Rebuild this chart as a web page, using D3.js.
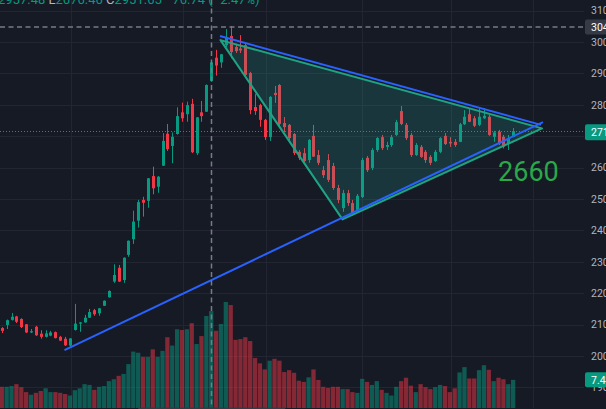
<!DOCTYPE html>
<html><head><meta charset="utf-8">
<script src="https://cdn.jsdelivr.net/npm/d3@7"></script>
<style>
html,body{margin:0;padding:0;background:#161a25;overflow:hidden;}
svg{display:block;}
text{font-family:Roboto,"Noto Sans",sans-serif;}
</style></head>
<body><svg id="c" width="606" height="409"></svg>
<script>
// ---- data (price in USD, volume in K) ----
const open  = [2089,2099,2115,2126,2118,2101,2075,2093,2071,2061,2065,2076,2061,2055,2033,2083,2103,2107,2122,2146,2136,2160,2187,2237,2281,2242,2322,2372,2431,2497,2494,2573,2539,2606,2708,2669,2707,2776,2770,2803,2646,2776,2778,2876,2950,2935,2990,3019,2984,2979,2990,2901,2793,2799,2752,2697,2838,2863,2742,2736,2707,2650,2646,2624,2701,2640,2592,2624,2605,2535,2471,2519,2487,2465,2506,2631,2599,2656,2697,2666,2672,2704,2780,2736,2704,2640,2666,2650,2634,2621,2650,2701,2682,2682,2682,2738,2770,2757,2736,2757,2762,2698,2714,2698,2677,2698];
const high  = [2092,2116,2137,2128,2120,2102,2086,2096,2082,2082,2080,2078,2064,2061,2057,2166,2108,2131,2150,2150,2153,2177,2209,2292,2290,2314,2368,2463,2497,2507,2567,2603,2573,2710,2739,2712,2792,2807,2810,2819,2761,2812,2865,2943,2975,2962,3041,3051,2994,3022,2997,2905,2834,2803,2755,2828,2860,2866,2761,2739,2710,2656,2662,2691,2736,2656,2605,2643,2615,2545,2529,2529,2497,2516,2631,2637,2662,2697,2704,2682,2704,2752,2796,2742,2710,2678,2672,2656,2640,2656,2697,2710,2697,2691,2742,2783,2787,2764,2790,2789,2768,2717,2720,2704,2704,2726];
const low   = [2073,2086,2113,2105,2089,2073,2073,2064,2055,2059,2063,2056,2048,2032,2029,2081,2077,2106,2121,2128,2128,2159,2186,2233,2236,2233,2316,2357,2409,2444,2472,2515,2520,2605,2653,2614,2705,2746,2746,2646,2640,2746,2777,2874,2893,2918,2984,2948,2965,2965,2892,2770,2768,2730,2688,2685,2806,2730,2713,2688,2640,2624,2615,2615,2634,2608,2567,2554,2529,2487,2459,2478,2446,2459,2503,2586,2592,2650,2656,2656,2666,2701,2735,2688,2634,2637,2631,2615,2608,2618,2646,2672,2666,2666,2681,2736,2745,2729,2732,2755,2701,2682,2672,2661,2656,2697];
const close = [2080,2114,2125,2109,2092,2075,2079,2066,2061,2072,2075,2057,2049,2034,2056,2103,2107,2122,2140,2133,2152,2176,2207,2258,2237,2313,2367,2428,2490,2488,2566,2534,2571,2685,2659,2698,2764,2757,2799,2649,2760,2764,2863,2935,2925,2961,3013,2968,2971,2973,2895,2783,2780,2752,2697,2825,2831,2739,2729,2694,2646,2631,2621,2688,2635,2615,2576,2561,2535,2497,2519,2487,2452,2510,2624,2592,2656,2694,2662,2672,2697,2745,2739,2694,2640,2672,2634,2624,2615,2650,2694,2675,2677,2672,2738,2762,2746,2733,2762,2765,2704,2712,2677,2667,2693,2716];
const volume = [5.6,5.6,5.8,6.3,5.5,4.2,3.5,4.0,4.5,5.2,4.2,4.2,4.0,3.7,3.3,4.7,5.2,6.3,6.1,4.8,5.6,5.8,7.1,7.6,8.5,9.0,11.6,14.9,14.6,13.5,13.5,15.5,13.5,15.1,18.7,16.5,20.8,20.6,20.8,22.4,16.9,19.0,24.3,25.6,20.4,22.2,28.0,27.2,18.0,18.2,18.7,17.7,13.2,11.8,10.2,12.5,13.0,12.5,9.5,10.0,9.3,7.2,6.9,8.1,10.2,7.4,5.6,5.3,5.6,5.6,5.0,5.0,4.2,4.0,7.7,6.9,6.1,7.1,4.8,4.0,3.3,5.6,7.1,8.0,5.9,4.2,6.3,5.5,5.0,5.5,6.1,5.8,4.2,5.2,9.4,10.8,7.8,7.8,10.0,11.3,10.1,7.1,8.0,7.6,6.3,7.43];
const priceTicks = [3100,3000,2900,2800,2700,2600,2500,2400,2300,2200,2100,2000,1900];
const timeGridIdx = [14.2,37.2,54.3,74,92.2,109];
// drawings, in [candle index, price]
const triangle = [[44.9,3006],[69.96,2435],[110.92,2725]];
const trendUpper = [[44.8,3019],[110.72,2736]];
const trendLower = [[12.87,2019],[111.13,2745]];
const crosshair = {idx:43, price:3047.8, label:"3047.80"};
const lastPriceLabel = "2716.45";
const lastVolLabel = "7.43K";
const note = {idx:101.9, price:2557, text:"2660"};
const header = [["2957.48 ","#089981"],["L","#b2b5be"],["2676.46 ","#089981"],["C","#b2b5be"],["2951.65 ","#089981"],["−76.74 (−2.47%)","#089981"]];

// ---- layout ----
const W=606,H=409, plotR=584;
const up="#089981", dn="#f23645";
const svg=d3.select("#c");
const x=d3.scaleLinear().domain([0,105]).range([1.8,513.15]);
const y=d3.scaleLinear().domain([2000,3000]).range([356,42]);
const yV=d3.scaleLinear().domain([0,28]).range([408,302]);
const idx=d3.range(open.length);

svg.append("rect").attr("width",W).attr("height",H).attr("fill","#161a25");
// grid
const g=svg.append("g");
g.selectAll("line.h").data(priceTicks).join("line")
 .attr("x1",0).attr("x2",plotR).attr("y1",d=>Math.round(y(d))+0.5).attr("y2",d=>Math.round(y(d))+0.5)
 .attr("stroke","#232632").attr("stroke-width",1);
g.selectAll("line.v").data(timeGridIdx).join("line")
 .attr("y1",0).attr("y2",408).attr("x1",d=>Math.round(x(d))+0.5).attr("x2",d=>Math.round(x(d))+0.5)
 .attr("stroke","#232632").attr("stroke-width",1);

// volume
svg.append("g").selectAll("rect").data(idx).join("rect")
 .attr("x",i=>x(i)-2.15).attr("width",4.3)
 .attr("y",i=>yV(volume[i])).attr("height",i=>yV(0)-yV(volume[i]))
 .attr("fill",i=>close[i]>=open[i]?"rgba(8,153,129,0.5)":"rgba(242,54,69,0.5)");

// candles
const cg=svg.append("g");
cg.selectAll("line").data(idx).join("line")
 .attr("x1",i=>Math.round(x(i))+0.5).attr("x2",i=>Math.round(x(i))+0.5)
 .attr("y1",i=>y(high[i])).attr("y2",i=>y(low[i]))
 .attr("stroke",i=>close[i]>=open[i]?up:dn).attr("stroke-width",1);
cg.selectAll("rect").data(idx).join("rect")
 .attr("x",i=>Math.round(x(i))-1).attr("width",3)
 .attr("y",i=>y(Math.max(open[i],close[i])))
 .attr("height",i=>Math.max(1,Math.abs(y(open[i])-y(close[i]))))
 .attr("fill",i=>close[i]>=open[i]?up:dn);

// last price dotted line
svg.append("line").attr("x1",0).attr("x2",plotR)
 .attr("y1",Math.round(y(close[close.length-1]))+0.5).attr("y2",Math.round(y(close[close.length-1]))+0.5)
 .attr("stroke",up).attr("stroke-width",1).attr("stroke-dasharray","1 2");

// drawings
const line=d3.line().x(d=>x(d[0])).y(d=>y(d[1]));
svg.append("path").datum(triangle).attr("d",d=>line(d)+"Z")
 .attr("fill","rgba(34,171,148,0.2)").attr("stroke","#1fa384").attr("stroke-width",2).attr("stroke-linejoin","round");
[trendUpper,trendLower].forEach(t=>{
 svg.append("path").datum(t).attr("d",line).attr("fill","none").attr("stroke","#2962ff").attr("stroke-width",2);
});
svg.append("text").attr("x",x(note.idx)).attr("y",y(note.price)).text(note.text)
 .attr("fill","#2aa84a").attr("font-size",27);

// crosshair
svg.append("line").attr("x1",0).attr("x2",plotR).attr("y1",y(crosshair.price)).attr("y2",y(crosshair.price))
 .attr("stroke","#787b86").attr("stroke-width",1.5).attr("stroke-dasharray","5 3.5");
svg.append("line").attr("x1",Math.round(x(crosshair.idx))+0.5).attr("x2",Math.round(x(crosshair.idx))+0.5).attr("y1",0).attr("y2",H)
 .attr("stroke","#787b86").attr("stroke-width",1.5).attr("stroke-dasharray","5 3.5");
svg.append("rect").attr("x",x(crosshair.idx)-73).attr("y",407.5).attr("width",147).attr("height",6).attr("fill","#363a45");

// header text
const ht=svg.append("text").attr("x",-2).attr("y",3.5).attr("font-size",13);
header.forEach(h=>ht.append("tspan").text(h[0]).attr("fill",h[1]));

// price axis
const ax=svg.append("g").attr("transform",`translate(${plotR},0)`)
 .call(d3.axisRight(y).tickValues(priceTicks).tickSize(0).tickPadding(7).tickFormat(d3.format("d")));
ax.select(".domain").remove();
ax.selectAll("text").attr("fill","#b2b5be").attr("font-size",10.5).attr("font-family","Roboto,sans-serif");

// labels
function label(cy,txt,bg,h){
 svg.append("rect").attr("x",585).attr("y",cy-h/2).attr("width",30).attr("height",h).attr("rx",2).attr("fill",bg);
 svg.append("text").attr("x",591).attr("y",cy+4).text(txt).attr("fill","#ffffff").attr("font-size",10.5);
}
label(y(crosshair.price),crosshair.label,"#363a45",15);
label(y(close[close.length-1])+1,lastPriceLabel,up,16);
label(yV(volume[volume.length-1]),lastVolLabel,"#089981",15);
</script></body></html>
